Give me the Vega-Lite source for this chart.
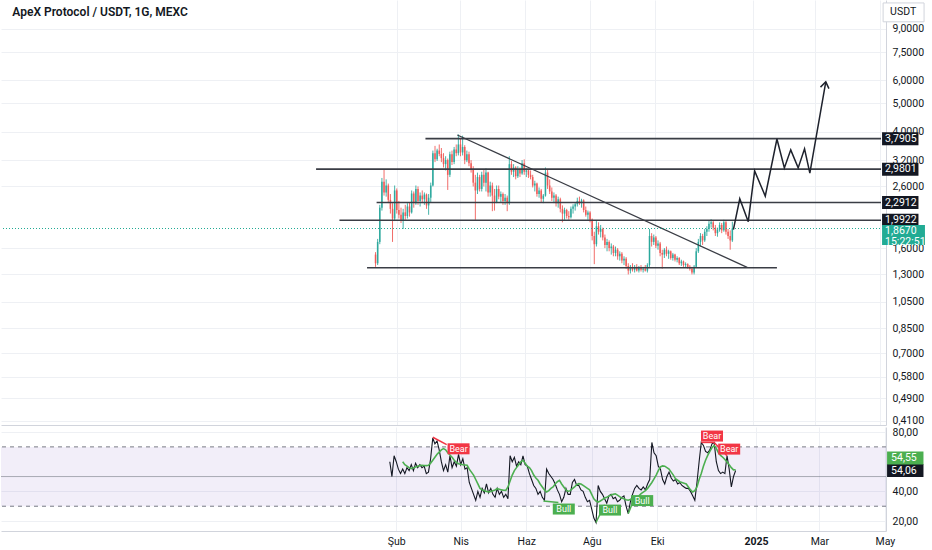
{
  "$schema": "https://vega.github.io/schema/vega-lite/v6.json",
  "padding": 0,
  "spacing": 0,
  "background": "#ffffff",
  "config": {
    "view": {"stroke": null},
    "font": "Roboto",
    "axis": {"labelFont": "Roboto", "labelFontSize": 10.5, "labelColor": "#131722", "gridColor": "#eef0f4", "domainColor": "#d1d4dc", "ticks": false, "title": null}
  },
  "datasets": {
    "candles": [
      {"t":"2024-01-12","o":1.52,"h":1.55,"l":1.38,"c":1.42},
      {"t":"2024-01-14","o":1.42,"h":1.72,"l":1.40,"c":1.68},
      {"t":"2024-01-16","o":1.68,"h":2.25,"l":1.65,"c":2.20},
      {"t":"2024-01-18","o":2.20,"h":2.78,"l":2.15,"c":2.70},
      {"t":"2024-01-20","o":2.70,"h":2.97,"l":2.42,"c":2.48},
      {"t":"2024-01-22","o":2.48,"h":2.75,"l":2.40,"c":2.62},
      {"t":"2024-01-24","o":2.62,"h":2.66,"l":2.28,"c":2.34},
      {"t":"2024-01-26","o":2.34,"h":2.45,"l":2.10,"c":2.18,"r":60},
      {"t":"2024-01-28","o":2.18,"h":2.28,"l":1.68,"c":2.02,"r":50},
      {"t":"2024-01-30","o":2.02,"h":2.62,"l":1.98,"c":2.52,"r":64},
      {"t":"2024-02-01","o":2.52,"h":2.56,"l":2.10,"c":2.16,"r":60},
      {"t":"2024-02-03","o":2.16,"h":2.32,"l":2.02,"c":2.08,"r":55},
      {"t":"2024-02-05","o":2.08,"h":2.20,"l":1.95,"c":2.00,"r":52},
      {"t":"2024-02-07","o":2.00,"h":2.18,"l":1.86,"c":2.12,"r":55,"m":60},
      {"t":"2024-02-09","o":2.12,"h":2.25,"l":2.00,"c":2.06,"r":52,"m":58},
      {"t":"2024-02-11","o":2.06,"h":2.28,"l":2.02,"c":2.22,"r":56,"m":57},
      {"t":"2024-02-13","o":2.22,"h":2.30,"l":2.05,"c":2.12,"r":54,"m":56},
      {"t":"2024-02-15","o":2.12,"h":2.52,"l":2.10,"c":2.46,"r":58,"m":55.3},
      {"t":"2024-02-17","o":2.46,"h":2.50,"l":2.20,"c":2.28,"r":54,"m":56},
      {"t":"2024-02-19","o":2.28,"h":2.62,"l":2.25,"c":2.55,"r":59,"m":56.5},
      {"t":"2024-02-21","o":2.55,"h":2.60,"l":2.25,"c":2.32,"r":56,"m":57},
      {"t":"2024-02-23","o":2.32,"h":2.48,"l":2.22,"c":2.42,"r":58,"m":57.5},
      {"t":"2024-02-25","o":2.42,"h":2.52,"l":2.28,"c":2.35,"r":56,"m":57.6},
      {"t":"2024-02-27","o":2.35,"h":2.48,"l":2.25,"c":2.44,"r":57,"m":57.5},
      {"t":"2024-02-29","o":2.44,"h":2.46,"l":2.18,"c":2.24,"r":52,"m":57.4},
      {"t":"2024-03-02","o":2.24,"h":2.45,"l":2.08,"c":2.38,"r":53,"m":57.6},
      {"t":"2024-03-04","o":2.38,"h":2.68,"l":2.30,"c":2.62,"r":62,"m":59},
      {"t":"2024-03-06","o":2.62,"h":3.45,"l":2.60,"c":3.38,"r":76,"m":61},
      {"t":"2024-03-08","o":3.38,"h":3.58,"l":3.15,"c":3.22,"r":72,"m":63},
      {"t":"2024-03-10","o":3.22,"h":3.50,"l":3.18,"c":3.45,"r":74,"m":65},
      {"t":"2024-03-12","o":3.45,"h":3.62,"l":3.30,"c":3.36,"r":68,"m":66.5},
      {"t":"2024-03-14","o":3.36,"h":3.52,"l":3.15,"c":3.25,"r":60,"m":68},
      {"t":"2024-03-16","o":3.25,"h":3.38,"l":3.02,"c":3.10,"r":54,"m":68.8},
      {"t":"2024-03-18","o":3.10,"h":3.30,"l":2.95,"c":3.20,"r":58,"m":68},
      {"t":"2024-03-20","o":3.20,"h":3.24,"l":2.53,"c":2.85,"r":53,"m":66},
      {"t":"2024-03-22","o":2.85,"h":3.42,"l":2.80,"c":3.35,"r":64,"m":64.5},
      {"t":"2024-03-24","o":3.35,"h":3.45,"l":3.08,"c":3.15,"r":56,"m":63},
      {"t":"2024-03-26","o":3.15,"h":3.55,"l":3.10,"c":3.48,"r":60,"m":61},
      {"t":"2024-03-28","o":3.48,"h":3.62,"l":3.30,"c":3.38,"r":57,"m":59.5},
      {"t":"2024-03-30","o":3.38,"h":3.92,"l":3.32,"c":3.62,"r":65,"m":58.6},
      {"t":"2024-04-01","o":3.62,"h":3.78,"l":3.30,"c":3.40,"r":58,"m":58.3},
      {"t":"2024-04-03","o":3.40,"h":3.88,"l":3.32,"c":3.55,"r":62,"m":58},
      {"t":"2024-04-05","o":3.55,"h":3.60,"l":3.10,"c":3.20,"r":55,"m":57.8},
      {"t":"2024-04-07","o":3.20,"h":3.45,"l":3.15,"c":3.35,"r":56,"m":57.6},
      {"t":"2024-04-09","o":3.35,"h":3.42,"l":3.05,"c":3.12,"r":46,"m":55},
      {"t":"2024-04-11","o":3.12,"h":3.20,"l":2.90,"c":2.98,"r":42,"m":53},
      {"t":"2024-04-13","o":2.98,"h":3.05,"l":2.60,"c":2.68,"r":38,"m":51},
      {"t":"2024-04-15","o":2.68,"h":2.85,"l":2.00,"c":2.52,"r":34,"m":48},
      {"t":"2024-04-17","o":2.52,"h":2.90,"l":2.45,"c":2.80,"r":40,"m":45},
      {"t":"2024-04-19","o":2.80,"h":2.85,"l":2.50,"c":2.55,"r":36,"m":42},
      {"t":"2024-04-21","o":2.55,"h":2.92,"l":2.50,"c":2.85,"r":42,"m":41},
      {"t":"2024-04-23","o":2.85,"h":2.98,"l":2.60,"c":2.68,"r":39,"m":40.5},
      {"t":"2024-04-25","o":2.68,"h":3.00,"l":2.50,"c":2.90,"r":45,"m":40},
      {"t":"2024-04-27","o":2.90,"h":2.92,"l":2.40,"c":2.48,"r":39,"m":39.6},
      {"t":"2024-04-29","o":2.48,"h":2.70,"l":2.40,"c":2.62,"r":42,"m":40},
      {"t":"2024-05-01","o":2.62,"h":2.68,"l":2.14,"c":2.42,"r":38,"m":40.5},
      {"t":"2024-05-03","o":2.42,"h":2.55,"l":2.15,"c":2.30,"r":36,"m":41},
      {"t":"2024-05-05","o":2.30,"h":2.62,"l":2.28,"c":2.55,"r":42,"m":41.8},
      {"t":"2024-05-07","o":2.55,"h":2.62,"l":2.35,"c":2.40,"r":38,"m":41.5},
      {"t":"2024-05-09","o":2.40,"h":2.50,"l":2.30,"c":2.45,"r":40,"m":41},
      {"t":"2024-05-11","o":2.45,"h":2.48,"l":2.25,"c":2.32,"r":36,"m":40.8},
      {"t":"2024-05-13","o":2.32,"h":2.45,"l":2.25,"c":2.38,"r":38,"m":40.7},
      {"t":"2024-05-15","o":2.38,"h":2.42,"l":2.14,"c":2.28,"r":35,"m":43},
      {"t":"2024-05-17","o":2.28,"h":3.30,"l":2.25,"c":3.10,"r":64,"m":47},
      {"t":"2024-05-19","o":3.10,"h":3.18,"l":2.85,"c":2.92,"r":60,"m":51},
      {"t":"2024-05-21","o":2.92,"h":3.10,"l":2.80,"c":3.02,"r":63,"m":54},
      {"t":"2024-05-23","o":3.02,"h":3.05,"l":2.75,"c":2.82,"r":57,"m":56},
      {"t":"2024-05-25","o":2.82,"h":3.05,"l":2.78,"c":2.98,"r":60,"m":58},
      {"t":"2024-05-27","o":2.98,"h":3.02,"l":2.80,"c":2.88,"r":58,"m":60},
      {"t":"2024-05-29","o":2.88,"h":3.20,"l":2.85,"c":3.12,"r":64,"m":61},
      {"t":"2024-05-31","o":3.12,"h":3.22,"l":2.85,"c":2.92,"r":58,"m":59},
      {"t":"2024-06-02","o":2.92,"h":3.00,"l":2.80,"c":2.95,"r":57,"m":57},
      {"t":"2024-06-04","o":2.95,"h":2.98,"l":2.78,"c":2.85,"r":52,"m":56},
      {"t":"2024-06-06","o":2.85,"h":2.95,"l":2.75,"c":2.80,"r":48,"m":54},
      {"t":"2024-06-08","o":2.80,"h":2.85,"l":2.58,"c":2.62,"r":44,"m":51},
      {"t":"2024-06-10","o":2.62,"h":2.72,"l":2.50,"c":2.66,"r":42,"m":49},
      {"t":"2024-06-12","o":2.66,"h":2.68,"l":2.40,"c":2.45,"r":38,"m":47.5},
      {"t":"2024-06-14","o":2.45,"h":2.58,"l":2.38,"c":2.52,"r":40,"m":45},
      {"t":"2024-06-16","o":2.52,"h":2.55,"l":2.30,"c":2.36,"r":36,"m":43},
      {"t":"2024-06-18","o":2.36,"h":2.45,"l":2.28,"c":2.42,"r":34,"m":41},
      {"t":"2024-06-20","o":2.42,"h":3.02,"l":2.40,"c":2.90,"r":55,"m":39.6},
      {"t":"2024-06-22","o":2.90,"h":2.98,"l":2.55,"c":2.62,"r":52,"m":40.5},
      {"t":"2024-06-24","o":2.62,"h":2.75,"l":2.45,"c":2.50,"r":50,"m":42},
      {"t":"2024-06-26","o":2.50,"h":2.58,"l":2.32,"c":2.38,"r":48,"m":43},
      {"t":"2024-06-28","o":2.38,"h":2.48,"l":2.28,"c":2.42,"r":45,"m":45},
      {"t":"2024-06-30","o":2.42,"h":2.45,"l":2.22,"c":2.28,"r":41,"m":46.5},
      {"t":"2024-07-02","o":2.28,"h":2.40,"l":2.20,"c":2.35,"r":38,"m":47.4},
      {"t":"2024-07-04","o":2.35,"h":2.38,"l":2.12,"c":2.18,"r":33,"m":45},
      {"t":"2024-07-06","o":2.18,"h":2.24,"l":1.96,"c":2.10,"r":36,"m":43},
      {"t":"2024-07-08","o":2.10,"h":2.20,"l":2.00,"c":2.16,"r":42,"m":41},
      {"t":"2024-07-10","o":2.16,"h":2.18,"l":2.02,"c":2.06,"r":38,"m":40},
      {"t":"2024-07-12","o":2.06,"h":2.14,"l":2.00,"c":2.04,"r":38,"m":40.5},
      {"t":"2024-07-14","o":2.04,"h":2.22,"l":2.02,"c":2.18,"r":46,"m":41.8},
      {"t":"2024-07-16","o":2.18,"h":2.26,"l":2.10,"c":2.22,"r":48,"m":43},
      {"t":"2024-07-18","o":2.22,"h":2.30,"l":2.15,"c":2.26,"r":44,"m":44.5},
      {"t":"2024-07-20","o":2.26,"h":2.38,"l":2.22,"c":2.32,"r":44,"m":45.2},
      {"t":"2024-07-22","o":2.32,"h":2.40,"l":2.25,"c":2.28,"r":41,"m":45},
      {"t":"2024-07-24","o":2.28,"h":2.36,"l":2.20,"c":2.33,"r":40,"m":44},
      {"t":"2024-07-26","o":2.33,"h":2.35,"l":2.12,"c":2.16,"r":36,"m":43},
      {"t":"2024-07-28","o":2.16,"h":2.22,"l":2.05,"c":2.08,"r":33,"m":42},
      {"t":"2024-07-30","o":2.08,"h":2.15,"l":2.00,"c":2.12,"r":34,"m":41},
      {"t":"2024-08-01","o":2.12,"h":2.14,"l":1.96,"c":2.00,"r":28,"m":38},
      {"t":"2024-08-03","o":2.00,"h":2.02,"l":1.70,"c":1.76,"r":22,"m":35},
      {"t":"2024-08-05","o":1.76,"h":1.82,"l":1.41,"c":1.65,"r":19,"m":33.5},
      {"t":"2024-08-07","o":1.65,"h":1.98,"l":1.62,"c":1.90,"r":44,"m":32.8},
      {"t":"2024-08-09","o":1.90,"h":1.96,"l":1.78,"c":1.82,"r":40,"m":33.5},
      {"t":"2024-08-11","o":1.82,"h":1.92,"l":1.74,"c":1.86,"r":38,"m":34.5},
      {"t":"2024-08-13","o":1.86,"h":1.88,"l":1.70,"c":1.74,"r":35,"m":35.5},
      {"t":"2024-08-15","o":1.74,"h":1.78,"l":1.60,"c":1.64,"r":32,"m":36},
      {"t":"2024-08-17","o":1.64,"h":1.72,"l":1.56,"c":1.68,"r":37,"m":36.8},
      {"t":"2024-08-19","o":1.68,"h":1.70,"l":1.56,"c":1.60,"r":38,"m":37.5},
      {"t":"2024-08-21","o":1.60,"h":1.66,"l":1.52,"c":1.62,"r":35,"m":38},
      {"t":"2024-08-23","o":1.62,"h":1.64,"l":1.50,"c":1.54,"r":36,"m":38.4},
      {"t":"2024-08-25","o":1.54,"h":1.62,"l":1.50,"c":1.58,"r":33,"m":37.5},
      {"t":"2024-08-27","o":1.58,"h":1.60,"l":1.46,"c":1.50,"r":34,"m":36.5},
      {"t":"2024-08-29","o":1.50,"h":1.56,"l":1.45,"c":1.53,"r":36,"m":35.5},
      {"t":"2024-08-31","o":1.53,"h":1.55,"l":1.42,"c":1.45,"r":37,"m":35},
      {"t":"2024-09-02","o":1.45,"h":1.50,"l":1.40,"c":1.47,"r":30,"m":34.3},
      {"t":"2024-09-04","o":1.47,"h":1.49,"l":1.36,"c":1.39,"r":25,"m":34},
      {"t":"2024-09-06","o":1.39,"h":1.42,"l":1.30,"c":1.34,"r":33,"m":34.5},
      {"t":"2024-09-08","o":1.34,"h":1.40,"l":1.31,"c":1.38,"r":38,"m":35},
      {"t":"2024-09-10","o":1.38,"h":1.42,"l":1.33,"c":1.35,"r":42,"m":35.5},
      {"t":"2024-09-12","o":1.35,"h":1.40,"l":1.32,"c":1.38,"r":44,"m":36},
      {"t":"2024-09-14","o":1.38,"h":1.41,"l":1.33,"c":1.34,"r":42,"m":37},
      {"t":"2024-09-16","o":1.34,"h":1.39,"l":1.32,"c":1.37,"r":41,"m":38.5},
      {"t":"2024-09-18","o":1.37,"h":1.40,"l":1.33,"c":1.35,"r":43,"m":39.5},
      {"t":"2024-09-20","o":1.35,"h":1.38,"l":1.32,"c":1.36,"r":41,"m":40.5},
      {"t":"2024-09-22","o":1.36,"h":1.40,"l":1.33,"c":1.34,"r":45,"m":42},
      {"t":"2024-09-24","o":1.34,"h":1.42,"l":1.32,"c":1.40,"r":48,"m":44},
      {"t":"2024-09-26","o":1.40,"h":1.86,"l":1.38,"c":1.76,"r":73,"m":46},
      {"t":"2024-09-28","o":1.76,"h":1.80,"l":1.62,"c":1.68,"r":66,"m":48.5},
      {"t":"2024-09-30","o":1.68,"h":1.78,"l":1.64,"c":1.74,"r":64,"m":51},
      {"t":"2024-10-02","o":1.74,"h":1.76,"l":1.60,"c":1.63,"r":57,"m":54},
      {"t":"2024-10-04","o":1.63,"h":1.70,"l":1.58,"c":1.66,"r":55,"m":56.5},
      {"t":"2024-10-06","o":1.66,"h":1.68,"l":1.50,"c":1.54,"r":48,"m":57.2},
      {"t":"2024-10-08","o":1.54,"h":1.58,"l":1.36,"c":1.52,"r":45,"m":57},
      {"t":"2024-10-10","o":1.52,"h":1.60,"l":1.48,"c":1.58,"r":50,"m":56},
      {"t":"2024-10-12","o":1.58,"h":1.62,"l":1.50,"c":1.53,"r":53,"m":55},
      {"t":"2024-10-14","o":1.53,"h":1.58,"l":1.47,"c":1.56,"r":49,"m":53},
      {"t":"2024-10-16","o":1.56,"h":1.57,"l":1.46,"c":1.48,"r":47,"m":51},
      {"t":"2024-10-18","o":1.48,"h":1.54,"l":1.45,"c":1.52,"r":48,"m":48.5},
      {"t":"2024-10-20","o":1.52,"h":1.53,"l":1.44,"c":1.46,"r":45,"m":47.5},
      {"t":"2024-10-22","o":1.46,"h":1.50,"l":1.43,"c":1.48,"r":46,"m":46.5},
      {"t":"2024-10-24","o":1.48,"h":1.49,"l":1.40,"c":1.42,"r":44,"m":46},
      {"t":"2024-10-26","o":1.42,"h":1.46,"l":1.39,"c":1.44,"r":43,"m":45.5},
      {"t":"2024-10-28","o":1.44,"h":1.45,"l":1.38,"c":1.40,"r":42,"m":45},
      {"t":"2024-10-30","o":1.40,"h":1.43,"l":1.37,"c":1.41,"r":42,"m":43},
      {"t":"2024-11-01","o":1.41,"h":1.42,"l":1.36,"c":1.38,"r":40,"m":41},
      {"t":"2024-11-03","o":1.38,"h":1.40,"l":1.34,"c":1.36,"r":37,"m":39.6},
      {"t":"2024-11-05","o":1.36,"h":1.38,"l":1.30,"c":1.32,"r":34,"m":40.5},
      {"t":"2024-11-07","o":1.32,"h":1.40,"l":1.30,"c":1.38,"r":46,"m":43},
      {"t":"2024-11-09","o":1.38,"h":1.60,"l":1.37,"c":1.56,"r":60,"m":48},
      {"t":"2024-11-11","o":1.56,"h":1.72,"l":1.54,"c":1.68,"r":73,"m":52},
      {"t":"2024-11-13","o":1.68,"h":1.80,"l":1.62,"c":1.76,"r":71,"m":57},
      {"t":"2024-11-15","o":1.76,"h":1.79,"l":1.64,"c":1.70,"r":67,"m":61},
      {"t":"2024-11-17","o":1.70,"h":1.86,"l":1.68,"c":1.82,"r":66,"m":64.3},
      {"t":"2024-11-19","o":1.82,"h":1.90,"l":1.76,"c":1.86,"r":68,"m":67},
      {"t":"2024-11-21","o":1.86,"h":1.98,"l":1.82,"c":1.94,"r":72,"m":69.5},
      {"t":"2024-11-23","o":1.94,"h":2.01,"l":1.88,"c":1.96,"r":73,"m":71},
      {"t":"2024-11-25","o":1.96,"h":1.99,"l":1.84,"c":1.88,"r":60,"m":69},
      {"t":"2024-11-27","o":1.88,"h":1.92,"l":1.76,"c":1.80,"r":54,"m":66},
      {"t":"2024-11-29","o":1.80,"h":1.88,"l":1.75,"c":1.85,"r":52,"m":64.3},
      {"t":"2024-12-01","o":1.85,"h":1.96,"l":1.82,"c":1.92,"r":53,"m":63},
      {"t":"2024-12-03","o":1.92,"h":1.95,"l":1.80,"c":1.84,"r":52,"m":61.5},
      {"t":"2024-12-05","o":1.84,"h":2.00,"l":1.82,"c":1.96,"r":64,"m":59.8},
      {"t":"2024-12-07","o":1.96,"h":1.98,"l":1.78,"c":1.82,"r":55,"m":58},
      {"t":"2024-12-09","o":1.82,"h":1.86,"l":1.72,"c":1.76,"r":43,"m":56},
      {"t":"2024-12-11","o":1.76,"h":1.84,"l":1.58,"c":1.70,"r":50,"m":54.5},
      {"t":"2024-12-13","o":1.70,"h":1.97,"l":1.68,"c":1.867,"r":54.06,"m":54.55}
    ]
  },
  "vconcat": [
    {
      "width": 885,
      "height": 425,
      "layer": [
        {
          "data": {"name": "candles"},
          "mark": {"type": "rule", "strokeWidth": 1},
          "encoding": {
            "x": {"field": "t", "type": "temporal",
              "scale": {"type": "utc", "domain": [{"year": 2023, "month": 1, "date": 29, "utc": true}, {"year": 2025, "month": 5, "date": 2, "utc": true}]},
              "axis": {"values": [{"year": 2024, "month": 2, "date": 1, "utc": true}, {"year": 2024, "month": 4, "date": 1, "utc": true}, {"year": 2024, "month": 6, "date": 1, "utc": true}, {"year": 2024, "month": 8, "date": 1, "utc": true}, {"year": 2024, "month": 10, "date": 1, "utc": true}, {"year": 2025, "month": 1, "date": 1, "utc": true}, {"year": 2025, "month": 3, "date": 1, "utc": true}, {"year": 2025, "month": 5, "date": 1, "utc": true}],
                "labels": false, "ticks": false, "domain": true, "domainColor": "#d1d4dc", "grid": true}},
            "y": {"field": "l", "type": "quantitative",
              "scale": {"type": "log", "domain": [0.397, 11.3], "nice": false},
              "axis": {"orient": "right", "values": [9, 7.5, 6, 5, 4, 3.2, 2.6, 1.6, 1.3, 1.05, 0.85, 0.7, 0.58, 0.49, 0.41],
                "labelExpr": "replace(format(datum.value, '.4f'), '.', ',')", "grid": true, "domain": true, "domainColor": "#d1d4dc", "labelPadding": 6}},
            "y2": {"field": "h"},
            "color": {"condition": {"test": "datum.c >= datum.o", "value": "#26a69a"}, "value": "#ef5350"},
            "opacity": {"value": 0.85}
          }
        },
        {
          "data": {"name": "candles"},
          "mark": {"type": "bar", "width": 1.6},
          "encoding": {
            "x": {"field": "t", "type": "temporal"},
            "y": {"field": "o", "type": "quantitative"},
            "y2": {"field": "c"},
            "color": {"condition": {"test": "datum.c >= datum.o", "value": "#26a69a"}, "value": "#ef5350"},
            "opacity": {"value": 0.85}
          }
        },
        {
          "data": {"values": [
            {"p": 3.7905, "a": "2024-02-28", "b": "2025-05-02"},
            {"p": 2.9801, "a": "2023-11-17", "b": "2025-05-02"},
            {"p": 2.2912, "a": "2024-01-13", "b": "2025-05-02"},
            {"p": 1.9922, "a": "2023-12-09", "b": "2025-05-02"},
            {"p": 1.37, "a": "2024-01-04", "b": "2025-01-24"}
          ]},
          "mark": {"type": "rule", "strokeWidth": 1.6, "color": "#3a3d45"},
          "encoding": {
            "x": {"field": "a", "type": "temporal"},
            "x2": {"field": "b"},
            "y": {"field": "p", "type": "quantitative"}
          }
        },
        {
          "data": {"values": [
            {"t": "2024-03-29", "p": 3.9},
            {"t": "2024-12-27", "p": 1.375}
          ]},
          "mark": {"type": "line", "strokeWidth": 1.3, "color": "#3a3d45"},
          "encoding": {
            "x": {"field": "t", "type": "temporal"},
            "y": {"field": "p", "type": "quantitative"}
          }
        },
        {
          "data": {"values": [
            {"i": 0, "t": "2024-12-14", "p": 1.85},
            {"i": 1, "t": "2024-12-20", "p": 2.36},
            {"i": 2, "t": "2024-12-28", "p": 1.97},
            {"i": 3, "t": "2025-01-03", "p": 2.94},
            {"i": 4, "t": "2025-01-13", "p": 2.41},
            {"i": 5, "t": "2025-01-24", "p": 3.78},
            {"i": 6, "t": "2025-01-31", "p": 3.01},
            {"i": 7, "t": "2025-02-06", "p": 3.47},
            {"i": 8, "t": "2025-02-13", "p": 3.01},
            {"i": 9, "t": "2025-02-19", "p": 3.5},
            {"i": 10, "t": "2025-02-24", "p": 2.89},
            {"i": 11, "t": "2025-03-11", "p": 5.93}
          ]},
          "mark": {"type": "line", "strokeWidth": 1.5, "color": "#1e222d"},
          "encoding": {
            "x": {"field": "t", "type": "temporal"},
            "y": {"field": "p", "type": "quantitative"},
            "order": {"field": "i"}
          }
        },
        {
          "data": {"values": [{"t": "2025-03-11", "p": 5.93}]},
          "mark": {"type": "point", "shape": "M-0.7,1L0,0L0.7,1", "size": 150, "angle": 10, "filled": false, "strokeWidth": 1.5, "color": "#1e222d", "opacity": 1},
          "encoding": {
            "x": {"field": "t", "type": "temporal"},
            "y": {"field": "p", "type": "quantitative"}
          }
        },
        {
          "data": {"values": [{"p": 1.867}]},
          "mark": {"type": "rule", "strokeWidth": 1, "strokeDash": [1, 2], "color": "#22ab94"},
          "encoding": {
            "y": {"field": "p", "type": "quantitative"}
          }
        },
        {
          "data": {"values": [
            {"p": 3.7905, "s": "3,7905"},
            {"p": 2.9801, "s": "2,9801"},
            {"p": 2.2912, "s": "2,2912"},
            {"p": 1.9922, "s": "1,9922"}
          ]},
          "mark": {"type": "point", "shape": "M0,-1H5.6V1H0Z", "size": 169, "filled": true, "color": "#131722", "opacity": 1},
          "encoding": {
            "x": {"datum": {"year": 2025, "month": 5, "date": 3, "utc": true}, "type": "temporal"},
            "y": {"field": "p", "type": "quantitative"}
          }
        },
        {
          "data": {"values": [
            {"p": 3.7905, "s": "3,7905"},
            {"p": 2.9801, "s": "2,9801"},
            {"p": 2.2912, "s": "2,2912"},
            {"p": 1.9922, "s": "1,9922"}
          ]},
          "mark": {"type": "text", "align": "left", "baseline": "middle", "dx": 3, "fontSize": 10.5, "color": "#ffffff"},
          "encoding": {
            "x": {"datum": {"year": 2025, "month": 5, "date": 3, "utc": true}, "type": "temporal"},
            "y": {"field": "p", "type": "quantitative"},
            "text": {"field": "s"}
          }
        },
        {
          "data": {"values": [{"p": 1.867, "s": "1,8670\n15:22:51"}]},
          "mark": {"type": "point", "shape": "M0,-0.55H6.6V2.55H0Z", "size": 169, "filled": true, "color": "#22ab94", "opacity": 1},
          "encoding": {
            "x": {"datum": {"year": 2025, "month": 5, "date": 3, "utc": true}, "type": "temporal"},
            "y": {"field": "p", "type": "quantitative"}
          }
        },
        {
          "data": {"values": [{"p": 1.867, "s": "1,8670\n15:22:51"}]},
          "mark": {"type": "text", "align": "left", "baseline": "top", "dx": 3, "dy": -3, "lineBreak": "\n", "lineHeight": 11, "fontSize": 10.5, "color": "#ffffff"},
          "encoding": {
            "x": {"datum": {"year": 2025, "month": 5, "date": 3, "utc": true}, "type": "temporal"},
            "y": {"field": "p", "type": "quantitative"},
            "text": {"field": "s"}
          }
        },
        {
          "data": {"values": [{"p": 10.25, "s": "USDT"}]},
          "mark": {"type": "point", "shape": "M0,-1.45H6.3V1.45H0Z", "size": 169, "filled": true, "fill": "#ffffff", "stroke": "#d1d4dc", "strokeWidth": 1, "opacity": 1},
          "encoding": {
            "x": {"datum": {"year": 2025, "month": 5, "date": 4, "utc": true}, "type": "temporal"},
            "y": {"field": "p", "type": "quantitative"}
          }
        },
        {
          "data": {"values": [{"p": 10.25, "s": "USDT"}]},
          "mark": {"type": "text", "align": "left", "baseline": "middle", "dx": 7, "fontSize": 10.5, "color": "#131722"},
          "encoding": {
            "x": {"datum": {"year": 2025, "month": 5, "date": 4, "utc": true}, "type": "temporal"},
            "y": {"field": "p", "type": "quantitative"},
            "text": {"field": "s"}
          }
        },
        {
          "data": {"values": [{"p": 10.25, "s": "ApeX Protocol / USDT, 1G, MEXC"}]},
          "mark": {"type": "text", "align": "left", "baseline": "middle", "fontSize": 12, "fontWeight": 600, "color": "#131722"},
          "encoding": {
            "x": {"datum": {"year": 2023, "month": 2, "date": 4, "utc": true}, "type": "temporal"},
            "y": {"field": "p", "type": "quantitative"},
            "text": {"field": "s"}
          }
        }
      ]
    },
    {
      "width": 885,
      "height": 104,
      "layer": [
        {
          "data": {"values": [{}]},
          "mark": {"type": "rect", "color": "#7e57c2", "opacity": 0.1},
          "encoding": {
            "y": {"datum": 70, "type": "quantitative", "scale": {"domain": [13.3, 83.4], "nice": false, "zero": false},
              "axis": {"orient": "right", "values": [20, 40, 80], "labelExpr": "replace(format(datum.value, '.2f'), '.', ',')", "grid": true, "domain": true, "domainColor": "#d1d4dc", "labelPadding": 6}},
            "y2": {"datum": 30}
          }
        },
        {
          "data": {"values": [{"v": 70}, {"v": 30}]},
          "mark": {"type": "rule", "strokeDash": [4, 4], "strokeWidth": 1, "color": "#787b86"},
          "encoding": {"y": {"field": "v", "type": "quantitative"}}
        },
        {
          "data": {"values": [{"v": 50}]},
          "mark": {"type": "rule", "strokeWidth": 1, "color": "#787b86", "opacity": 0.6},
          "encoding": {"y": {"field": "v", "type": "quantitative"}}
        },
        {
          "data": {"name": "candles"},
          "mark": {"type": "line", "strokeWidth": 1.1, "color": "#131722"},
          "encoding": {
            "x": {"field": "t", "type": "temporal",
              "scale": {"type": "utc", "domain": [{"year": 2023, "month": 1, "date": 29, "utc": true}, {"year": 2025, "month": 5, "date": 2, "utc": true}]},
              "axis": {"values": [{"year": 2024, "month": 2, "date": 1, "utc": true}, {"year": 2024, "month": 4, "date": 1, "utc": true}, {"year": 2024, "month": 6, "date": 1, "utc": true}, {"year": 2024, "month": 8, "date": 1, "utc": true}, {"year": 2024, "month": 10, "date": 1, "utc": true}, {"year": 2025, "month": 1, "date": 1, "utc": true}, {"year": 2025, "month": 3, "date": 1, "utc": true}, {"year": 2025, "month": 5, "date": 1, "utc": true}],
                "labelExpr": "utcmonth(datum.value) == 0 ? utcFormat(datum.value, '%Y') : ['Oca','Şub','Mar','Nis','May','Haz','Tem','Ağu','Eyl','Eki','Kas','Ara'][utcmonth(datum.value)]",
                "labelFontWeight": {"condition": {"test": "utcmonth(datum.value) == 0", "value": "bold"}, "value": "normal"},
                "grid": true, "domain": true, "domainColor": "#d1d4dc", "labelPadding": 5, "labelFontSize": 10.5}},
            "y": {"field": "r", "type": "quantitative"}
          }
        },
        {
          "data": {"name": "candles"},
          "mark": {"type": "line", "strokeWidth": 1.6, "color": "#4caf50"},
          "encoding": {
            "x": {"field": "t", "type": "temporal"},
            "y": {"field": "m", "type": "quantitative"}
          }
        },
        {
          "data": {"values": [
            {"g": 1, "t": "2024-03-06", "v": 76.5}, {"g": 1, "t": "2024-03-19", "v": 71.5},
            {"g": 2, "t": "2024-11-11", "v": 73}, {"g": 2, "t": "2024-11-23", "v": 73},
            {"g": 3, "t": "2024-11-23", "v": 73}, {"g": 3, "t": "2024-12-05", "v": 64}
          ]},
          "mark": {"type": "line", "strokeWidth": 1.5, "color": "#f23645"},
          "encoding": {
            "x": {"field": "t", "type": "temporal"},
            "y": {"field": "v", "type": "quantitative"},
            "detail": {"field": "g"}
          }
        },
        {
          "data": {"values": [
            {"g": 1, "t": "2024-06-17", "v": 33.5}, {"g": 1, "t": "2024-07-01", "v": 32.5},
            {"g": 2, "t": "2024-08-05", "v": 19}, {"g": 2, "t": "2024-08-13", "v": 31},
            {"g": 3, "t": "2024-09-04", "v": 25}, {"g": 3, "t": "2024-09-09", "v": 34}
          ]},
          "mark": {"type": "line", "strokeWidth": 1.5, "color": "#4caf50"},
          "encoding": {
            "x": {"field": "t", "type": "temporal"},
            "y": {"field": "v", "type": "quantitative"},
            "detail": {"field": "g"}
          }
        },
        {
          "data": {"values": [
            {"t": "2024-03-30", "v": 68.7, "s": "Bear", "k": "bear"},
            {"t": "2024-11-21", "v": 77.3, "s": "Bear", "k": "bear"},
            {"t": "2024-12-07", "v": 68.5, "s": "Bear", "k": "bear"},
            {"t": "2024-07-06", "v": 28.1, "s": "Bull", "k": "bull"},
            {"t": "2024-08-18", "v": 27.4, "s": "Bull", "k": "bull"},
            {"t": "2024-09-17", "v": 33.8, "s": "Bull", "k": "bull"}
          ]},
          "mark": {"type": "point", "shape": "M-2,-1H2V1H-2Z", "size": 121, "filled": true, "opacity": 1},
          "encoding": {
            "x": {"field": "t", "type": "temporal"},
            "y": {"field": "v", "type": "quantitative"},
            "color": {"condition": {"test": "datum.k == 'bear'", "value": "#f23645"}, "value": "#4caf50"}
          }
        },
        {
          "data": {"values": [
            {"t": "2024-03-30", "v": 68.7, "s": "Bear"},
            {"t": "2024-11-21", "v": 77.3, "s": "Bear"},
            {"t": "2024-12-07", "v": 68.5, "s": "Bear"},
            {"t": "2024-07-06", "v": 28.1, "s": "Bull"},
            {"t": "2024-08-18", "v": 27.4, "s": "Bull"},
            {"t": "2024-09-17", "v": 33.8, "s": "Bull"}
          ]},
          "mark": {"type": "text", "align": "center", "baseline": "middle", "fontSize": 9, "color": "#ffffff"},
          "encoding": {
            "x": {"field": "t", "type": "temporal"},
            "y": {"field": "v", "type": "quantitative"},
            "text": {"field": "s"}
          }
        },
        {
          "data": {"values": [{"v": 54.06, "s": "54,06"}]},
          "mark": {"type": "point", "shape": "M0,-1H5.6V1H0Z", "size": 169, "filled": true, "color": "#131722", "opacity": 1},
          "encoding": {
            "x": {"datum": {"year": 2025, "month": 5, "date": 3, "utc": true}, "type": "temporal"},
            "y": {"field": "v", "type": "quantitative"}
          }
        },
        {
          "data": {"values": [{"v": 54.55, "s": "54,55"}]},
          "mark": {"type": "point", "shape": "M0,-2.8H5.6V-0.8H0Z", "size": 169, "filled": true, "color": "#4caf50", "opacity": 1},
          "encoding": {
            "x": {"datum": {"year": 2025, "month": 5, "date": 3, "utc": true}, "type": "temporal"},
            "y": {"field": "v", "type": "quantitative"}
          }
        },
        {
          "data": {"values": [{"v": 54.06, "s": "54,06"}]},
          "mark": {"type": "text", "align": "left", "baseline": "middle", "dx": 4, "fontSize": 10.5, "color": "#ffffff"},
          "encoding": {
            "x": {"datum": {"year": 2025, "month": 5, "date": 3, "utc": true}, "type": "temporal"},
            "y": {"field": "v", "type": "quantitative"},
            "text": {"field": "s"}
          }
        },
        {
          "data": {"values": [{"v": 54.55, "s": "54,55"}]},
          "mark": {"type": "text", "align": "left", "baseline": "middle", "dx": 4, "dy": -12, "fontSize": 10.5, "color": "#ffffff"},
          "encoding": {
            "x": {"datum": {"year": 2025, "month": 5, "date": 3, "utc": true}, "type": "temporal"},
            "y": {"field": "v", "type": "quantitative"},
            "text": {"field": "s"}
          }
        }
      ]
    }
  ]
}
